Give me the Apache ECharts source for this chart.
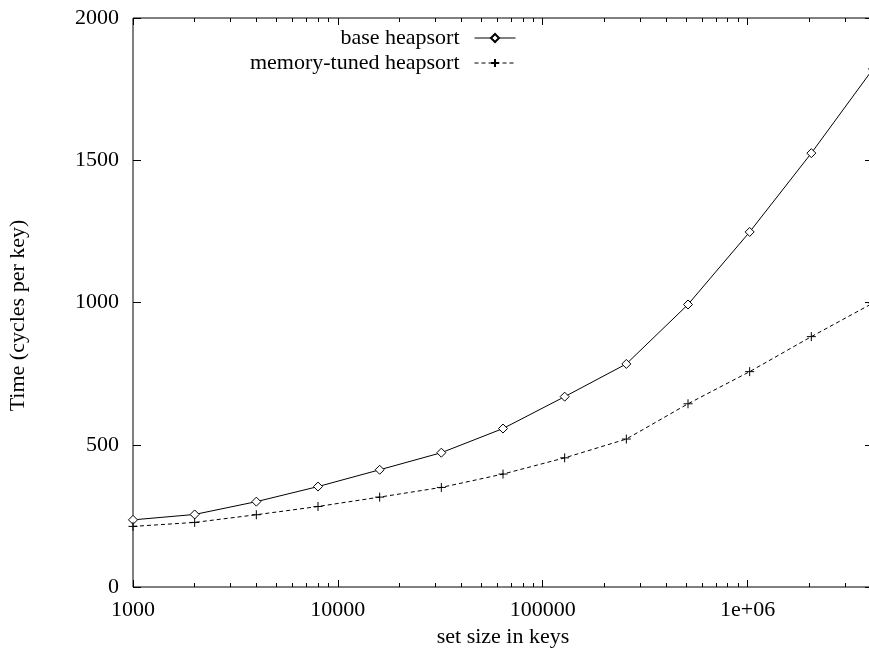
<!DOCTYPE html>
<html>
<head>
<meta charset="utf-8">
<script src="https://cdn.jsdelivr.net/npm/echarts@6/dist/echarts.min.js"></script>
<style>
  html, body { margin: 0; padding: 0; background: #fff; }
  #chart { width: 869px; height: 650px; }
</style>
</head>
<body>
<div id="chart"></div>
<script>
// set sizes in keys (log x axis)
const setSizes = [1000, 2000, 4000, 8000, 16000, 32000, 64000, 128000, 256000, 512000, 1024000, 2048000, 4096000]
const baseHeapsort = [236, 255, 300, 353, 412, 472, 557, 669, 784, 993, 1248, 1525, 1821]
const tunedHeapsort = [213, 227, 254, 283, 316, 350, 397, 454, 520, 644, 757, 880, 998]
const xMajorTicks = [1000, 10000, 100000, 1000000]
const xMinorTicks = []
for (let d = 1000; d < 10000000; d *= 10) {
  for (let m = 2; m <= 9; m++) xMinorTicks.push(d * m)
}

const font = 'Liberation Serif, Times New Roman, serif'
const black = '#000'
const fs = 22

const chart = echarts.init(document.getElementById('chart'))

const xBase = (position, ticks, len, labels) => ({
  type: 'log',
  logBase: 10,
  min: 1000,
  max: 4096000,
  position: position,
  axisLine: { show: false },
  splitLine: { show: false },
  axisTick: { show: true, inside: true, length: len, customValues: ticks, lineStyle: { color: black, width: 1 } },
  axisLabel: labels
    ? {
        show: true,
        customValues: xMajorTicks,
        margin: 12,
        color: black,
        fontFamily: font,
        fontSize: fs,
        formatter: v => (v >= 1000000 ? '1e+06' : String(v))
      }
    : { show: false }
})

const legendBase = {
  right: 348, align: 'right',
  itemWidth: 41, itemHeight: 10,
  lineStyle: { width: 1 },
  textStyle: { color: black, fontFamily: font, fontSize: fs, padding: [0, 10, 0, 0] }
}

chart.setOption({
  animation: false,
  grid: {
    left: 133, width: 740, top: 18, bottom: 63,
    outerBoundsMode: 'none',
    show: true, borderColor: black, borderWidth: 1, backgroundColor: 'transparent'
  },
  legend: [
    Object.assign({ data: ['base heapsort'], top: 22 }, legendBase),
    Object.assign({ data: ['memory-tuned heapsort'], top: 47 }, legendBase)
  ],
  xAxis: [
    Object.assign(xBase('bottom', xMajorTicks, 7, true), {
      name: 'set size in keys',
      nameLocation: 'middle',
      nameGap: 36,
      nameTextStyle: { color: black, fontFamily: font, fontSize: fs }
    }),
    xBase('bottom', xMinorTicks, 4, false),
    xBase('top', xMajorTicks, 7, false),
    xBase('top', xMinorTicks, 4, false)
  ],
  yAxis: [
    {
      type: 'value',
      min: 0, max: 2000, interval: 500,
      position: 'left',
      name: 'Time (cycles per key)',
      nameLocation: 'middle',
      nameGap: 104,
      nameTextStyle: { color: black, fontFamily: font, fontSize: fs, padding: [0, 26, 0, 0] },
      axisLine: { show: false },
      splitLine: { show: false },
      axisTick: { show: true, inside: true, length: 8, lineStyle: { color: black } },
      axisLabel: { color: black, fontFamily: font, fontSize: fs, margin: 14, formatter: v => String(v) }
    },
    {
      type: 'value',
      min: 0, max: 2000, interval: 500,
      position: 'right',
      axisLine: { show: false },
      splitLine: { show: false },
      axisTick: { show: true, inside: true, length: 8, lineStyle: { color: black } },
      axisLabel: { show: false }
    }
  ],
  series: [
    {
      name: 'base heapsort',
      type: 'line',
      data: setSizes.map((x, i) => [x, baseHeapsort[i]]),
      symbol: 'diamond',
      symbolSize: 9,
      showAllSymbol: true,
      lineStyle: { color: black, width: 1 },
      itemStyle: { color: '#fff', borderColor: black, borderWidth: 1 }
    },
    {
      name: 'memory-tuned heapsort',
      type: 'line',
      data: setSizes.map((x, i) => [x, tunedHeapsort[i]]),
      symbol: 'path://M0,5L10,5M5,0L5,10',
      symbolSize: 9,
      showAllSymbol: true,
      lineStyle: { color: black, width: 1, type: [4, 3] },
      itemStyle: { color: 'none', borderColor: black, borderWidth: 1 }
    }
  ]
})
</script>
</body>
</html>
